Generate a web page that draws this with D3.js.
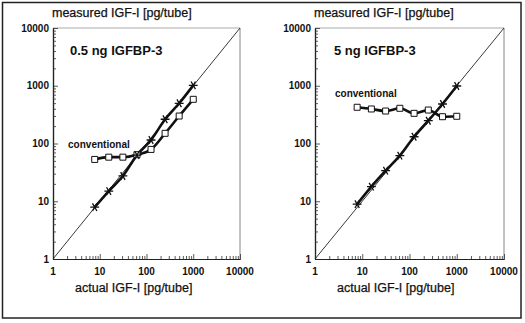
<!DOCTYPE html>
<html>
<head>
<meta charset="utf-8">
<script src="https://cdn.jsdelivr.net/npm/d3@7"></script>
<style>
  html, body { margin: 0; padding: 0; background: #fff; }
  svg { display: block; }
  text { font-family: "Liberation Sans", Arial, Helvetica, sans-serif; fill: #111; }
</style>
</head>
<body>
<svg id="chart" width="525" height="323"></svg>
<script>
// Actual IGF-I added per tube (doubling dilution series), pg/tube
const actualIGF = [7.8, 15.6, 31.25, 62.5, 125, 250, 500, 1000];

// Panel A: 0.5 ng IGFBP-3
const panelA_label = "0.5 ng IGFBP-3";
const panelA_new = [7.9, 15, 27.4, 63, 115, 263, 497, 1018];
const panelA_conventional = [53, 58, 58, 64, 79, 150, 299, 582];

// Panel B: 5 ng IGFBP-3
const panelB_label = "5 ng IGFBP-3";
const panelB_new = [8.9, 17.9, 33.8, 61.5, 131, 248, 483, 990];
const panelB_conventional = [424, 396, 365, 407, 333, 380, 291, 296];

// Axis ticks
const majorTicks = [1, 10, 100, 1000, 10000];
const tickLabels = ["1", "10", "100", "1000", "10000"];
const yTitle = "measured IGF-I [pg/tube]";
const xTitle = "actual IGF-I [pg/tube]";
const seriesName = "conventional";

const svg = d3.select("#chart");

// Outer frame around the figure
svg.append("rect")
  .attr("x", 2.5).attr("y", 2.5)
  .attr("width", 518.5).attr("height", 315.5)
  .attr("fill", "none").attr("stroke", "#222").attr("stroke-width", 1.5);

// minor tick values 2..9 for each decade
const minorTicks = [];
[1, 10, 100, 1000].forEach(d => { for (let k = 2; k <= 9; k++) minorTicks.push(d * k); });

function drawPanel(cfg) {
  const x = d3.scaleLog().domain([1, 10000]).range([cfg.left, cfg.right]);
  const y = d3.scaleLog().domain([1, 10000]).range([cfg.bottom, cfg.top]);
  const g = svg.append("g");

  // frame: top/right light, left/bottom dark
  g.append("line").attr("x1", cfg.left).attr("x2", cfg.right).attr("y1", cfg.top).attr("y2", cfg.top)
    .attr("stroke", "#aaa").attr("stroke-width", 1);
  g.append("line").attr("x1", cfg.right).attr("x2", cfg.right).attr("y1", cfg.top).attr("y2", cfg.bottom)
    .attr("stroke", "#888").attr("stroke-width", 1);

  // y axis (ticks pointing inward)
  const yAxis = d3.axisLeft(y).tickValues(majorTicks).tickSizeInner(-5).tickSizeOuter(0).tickFormat(() => "");
  g.append("g").attr("transform", `translate(${cfg.left},0)`).call(yAxis);
  const yMinor = d3.axisLeft(y).tickValues(minorTicks).tickSizeInner(-3).tickSizeOuter(0).tickFormat(() => "");
  g.append("g").attr("transform", `translate(${cfg.left},0)`).call(yMinor);

  // x axis (ticks pointing inward)
  const xAxis = d3.axisBottom(x).tickValues(majorTicks).tickSizeInner(-5).tickSizeOuter(0).tickFormat(() => "");
  g.append("g").attr("transform", `translate(0,${cfg.bottom})`).call(xAxis);
  const xMinor = d3.axisBottom(x).tickValues(minorTicks).tickSizeInner(-3).tickSizeOuter(0).tickFormat(() => "");
  g.append("g").attr("transform", `translate(0,${cfg.bottom})`).call(xMinor);

  g.selectAll(".domain").attr("stroke", "#222").attr("stroke-width", 1.2);
  g.selectAll(".tick line").attr("stroke", "#333").attr("stroke-width", 0.8);

  // tick labels
  g.selectAll(".ylab").data(majorTicks).enter().append("text")
    .attr("x", cfg.left - 4).attr("y", d => y(d) + 3.5)
    .attr("text-anchor", "end").attr("font-size", 10).attr("font-weight", "bold")
    .text((d, i) => tickLabels[i]);
  g.selectAll(".xlab").data(majorTicks).enter().append("text")
    .attr("x", d => x(d)).attr("y", cfg.bottom + 16)
    .attr("text-anchor", "middle").attr("font-size", 10).attr("font-weight", "bold")
    .text((d, i) => tickLabels[i]);

  // axis titles
  g.append("text").attr("x", cfg.left - 1).attr("y", 16.5)
    .attr("font-size", 12.5).attr("stroke", "#111").attr("stroke-width", 0.25).text(yTitle);
  g.append("text").attr("x", cfg.left + 22).attr("y", 291.5)
    .attr("font-size", 12.5).attr("stroke", "#111").attr("stroke-width", 0.25).text(xTitle);

  // identity line
  g.append("line")
    .attr("x1", x(1)).attr("y1", y(1)).attr("x2", x(10000)).attr("y2", y(10000))
    .attr("stroke", "#222").attr("stroke-width", 0.9);

  // panel label
  g.append("text").attr("x", cfg.left + cfg.labelDx).attr("y", 55)
    .attr("font-size", 13).attr("font-weight", "bold").text(cfg.label);

  const line = d3.line().x(d => x(d[0])).y(d => y(d[1])).curve(d3.curveMonotoneX);
  const conv = actualIGF.map((a, i) => [a, cfg.conventional[i]]);
  const neu = actualIGF.map((a, i) => [a, cfg.measured[i]]);

  g.append("path").datum(conv).attr("d", line)
    .attr("fill", "none").attr("stroke", "#111").attr("stroke-width", 2.6);
  g.append("path").datum(neu).attr("d", line)
    .attr("fill", "none").attr("stroke", "#111").attr("stroke-width", 2.6);

  const sq = d3.symbol().type(d3.symbolSquare).size(36);
  g.selectAll(".sq").data(conv).enter().append("path")
    .attr("d", sq).attr("transform", d => `translate(${x(d[0])},${y(d[1])})`)
    .attr("fill", "#fff").attr("stroke", "#111").attr("stroke-width", 1);

  const ast = d3.symbol().type(d3.symbolAsterisk).size(55);
  g.selectAll(".ast").data(neu).enter().append("path")
    .attr("d", ast).attr("transform", d => `translate(${x(d[0])},${y(d[1])}) rotate(90)`)
    .attr("fill", "none").attr("stroke", "#111").attr("stroke-width", 1.3);

  // series label
  g.append("text").attr("x", x(cfg.convLabel[0])).attr("y", y(cfg.convLabel[1]))
    .attr("font-size", 10).attr("font-weight", "bold").text(seriesName);
}

drawPanel({
  left: 53, right: 240, top: 28, bottom: 259,
  label: panelA_label, labelDx: 17,
  measured: panelA_new, conventional: panelA_conventional,
  convLabel: [2.1, 85]
});
drawPanel({
  left: 315, right: 504, top: 28, bottom: 259,
  label: panelB_label, labelDx: 19,
  measured: panelB_new, conventional: panelB_conventional,
  convLabel: [2.65, 638]
});
</script>
</body>
</html>
